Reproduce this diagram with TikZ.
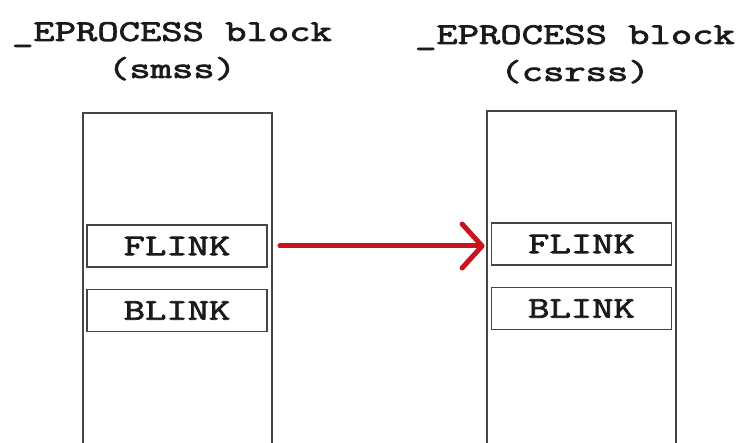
\documentclass[tikz,border=0pt]{standalone}
\usepackage{fontspec}
\usepackage{xcolor}
\usepackage{tikz}
\usetikzlibrary{arrows.meta,positioning,calc}
\definecolor{ink}    {HTML}{1A1A1A}
\definecolor{frame}  {HTML}{454545}
\definecolor{linkred}{HTML}{C8141E}
\newfontfamily\blockfont{Latin Modern Mono}[FakeStretch=1.38,FakeBold=2.6]

\begin{document}
\begin{tikzpicture}[
  x=1pt, y=-1pt,
  ttl/.style={inner sep=0pt, anchor=north, align=center,
              font=\blockfont\fontsize{30}{37}\selectfont, text=ink},
  blk/.style={rectangle, draw=frame, line width=2pt, anchor=north,
              minimum width=189pt, minimum height=400pt},
  fld/.style={rectangle, draw=frame, line width=1.8pt, fill=white, inner sep=0pt,
              minimum width=180pt, minimum height=42pt,
              font=\blockfont\fontsize{30}{37}\selectfont, text=ink},
  arr/.style={-{Straight Barb[length=20pt,width=44pt,round]}, draw=linkred,
              line width=5pt, line cap=round}
]
\useasboundingbox (0,0) rectangle (743,443);

\node[ttl] (smsstitle) at (172,22) {\_EPROCESS block\\(smss)};
\node[ttl] (csrsstitle) at (575,25) {\_EPROCESS block\\(csrss)};

\node[blk] (smss) at (177.5,112) {};
\node[blk] (csrss) at (581,110) {};

\node[fld] (sflink) at (177,246) {FLINK};
\node[fld] (sblink) at (177,310.5) {BLINK};
\node[fld] (cflink) at (581.5,244) {FLINK};
\node[fld] (cblink) at (581.5,308.5) {BLINK};

\draw[arr, shorten <=12pt, shorten >=6pt] (sflink.east) -- (sflink.east -| cflink.west);
\end{tikzpicture}
\end{document}
